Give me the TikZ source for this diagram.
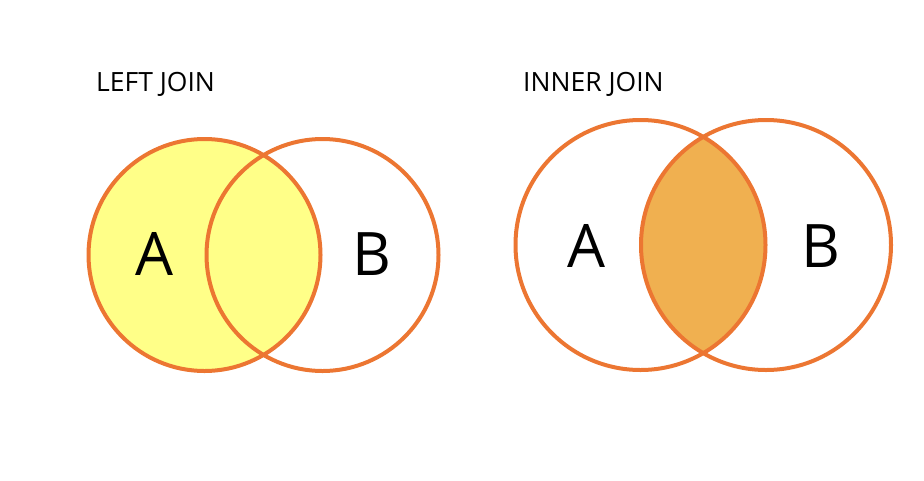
\documentclass[tikz,border=0pt]{standalone}
\usepackage{fontspec}
\setmainfont{Open Sans}
\usepackage{tikz}
\usetikzlibrary{positioning}
\definecolor{joinLine}{HTML}{EC7632}
\definecolor{joinLeft}{HTML}{FFFF88}
\definecolor{joinInner}{HTML}{F0B050}
\tikzset{
  setring/.style={draw=joinLine, line width=4pt},
  title/.style={inner sep=0pt, anchor=base west, font=\fontsize{26.5}{31}\selectfont},
  setname/.style={inner sep=0pt, anchor=base, font=\fontsize{60}{72}\selectfont}
}

\begin{document}
\begin{tikzpicture}[x=1pt, y=-1pt]
  \useasboundingbox (0,0) rectangle (924,480);

  % --- LEFT JOIN: all of A ---
  \coordinate (lA) at (204.5,255);
  \coordinate (lB) at (322.5,255);
  \fill[joinLeft] (lA) circle (116pt);
  \draw[setring] (lA) circle (116pt);
  \draw[setring] (lB) circle (116pt);
  \node[title] (leftTitle) at (96,91) {LEFT JOIN};
  \node[setname] (leftA) at (154,275) {A};
  \node[setname] (leftB) at (372,275) {B};

  % --- INNER JOIN: A and B ---
  \coordinate (iA) at (640.5,245);
  \coordinate (iB) at (766,245);
  \begin{scope}
    \clip (iA) circle (125pt);
    \fill[joinInner] (iB) circle (125pt);
  \end{scope}
  \draw[setring] (iA) circle (125pt);
  \draw[setring] (iB) circle (125pt);
  \node[title] (innerTitle) at (523,91) {INNER JOIN};
  \node[setname] (innerA) at (586,267) {A};
  \node[setname] (innerB) at (821,267) {B};
\end{tikzpicture}
\end{document}
